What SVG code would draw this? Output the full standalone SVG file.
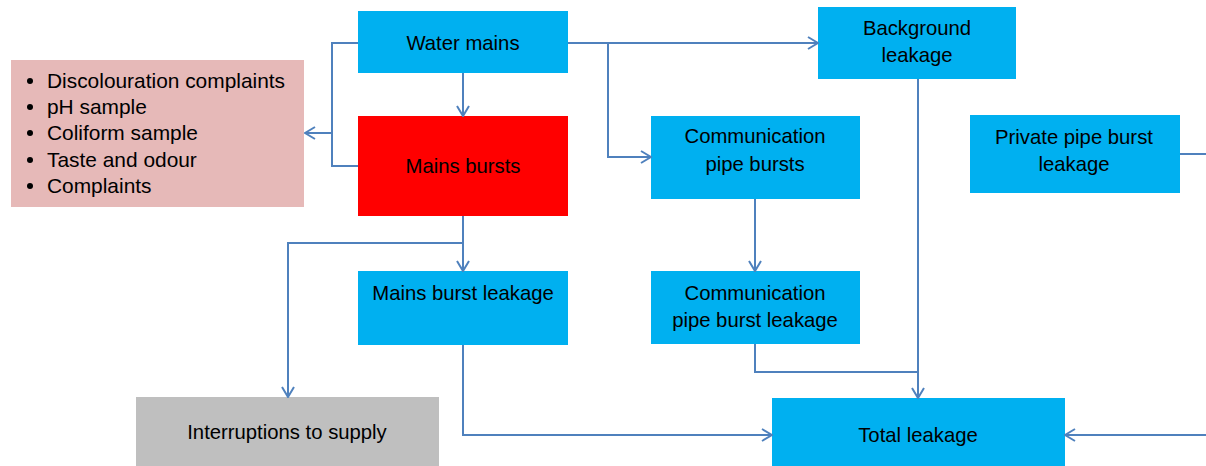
<svg xmlns="http://www.w3.org/2000/svg" width="1206" height="466" viewBox="0 0 1206 466">
<style>
.box{stroke:none}
.blue{fill:#00B0F0}
.red{fill:#FF0000}
.pink{fill:#E6B9B8}
.grey{fill:#BFBFBF}
text{font-family:"Liberation Sans",Arial,sans-serif;font-size:20.3px;fill:#000}
.c{text-anchor:middle}
.l{font-size:20.9px}
.conn path{fill:none;stroke:#4F81BD;stroke-width:2}
</style>
<defs>
<marker id="arr" viewBox="0 0 12 14" refX="11" refY="7" markerWidth="12" markerHeight="14" markerUnits="userSpaceOnUse" orient="auto">
<path d="M1,1 L11,7 L1,13" fill="none" stroke="#4F81BD" stroke-width="2"/>
</marker>
</defs>
<rect width="1206" height="466" fill="#fff"/>
<g id="water-mains"><rect class="box blue" x="358" y="11" width="210" height="62"/><text class="c" x="463" y="50">Water mains</text></g>
<g id="mains-bursts"><rect class="box red" x="358" y="116" width="210" height="100"/><text class="c" x="463" y="173">Mains bursts</text></g>
<g id="quality"><rect class="box pink" x="11" y="60" width="293" height="147"/>
<circle cx="30" cy="81" r="3"/><text class="l" x="47" y="88">Discolouration complaints</text>
<circle cx="30" cy="107" r="3"/><text class="l" x="47" y="114">pH sample</text>
<circle cx="30" cy="133" r="3"/><text class="l" x="47" y="140">Coliform sample</text>
<circle cx="30" cy="160" r="3"/><text class="l" x="47" y="167">Taste and odour</text>
<circle cx="30" cy="186" r="3"/><text class="l" x="47" y="193">Complaints</text>
</g>
<g id="background-leakage"><rect class="box blue" x="818" y="7" width="198" height="72"/><text class="c" x="917" y="35">Background</text><text class="c" x="917" y="62">leakage</text></g>
<g id="comm-pipe-bursts"><rect class="box blue" x="651" y="116" width="209" height="83"/><text class="c" x="755" y="143">Communication</text><text class="c" x="755" y="171">pipe bursts</text></g>
<g id="private-pipe"><rect class="box blue" x="970" y="115" width="210" height="78"/><text class="c" x="1074" y="144">Private pipe burst</text><text class="c" x="1074" y="171">leakage</text></g>
<g id="mains-burst-leakage"><rect class="box blue" x="358" y="271" width="210" height="74"/><text class="c" x="463" y="300">Mains burst leakage</text></g>
<g id="comm-pipe-leakage"><rect class="box blue" x="651" y="271" width="209" height="73"/><text class="c" x="755" y="300">Communication</text><text class="c" x="755" y="327">pipe burst leakage</text></g>
<g id="interruptions"><rect class="box grey" x="136" y="397" width="303" height="69"/><text class="c" x="287" y="439">Interruptions to supply</text></g>
<g id="total-leakage"><rect class="box blue" x="772" y="398" width="293" height="68"/><text class="c" x="918" y="442">Total leakage</text></g>
<g class="conn" id="connectors">
<path d="M463,73 V116" marker-end="url(#arr)"/>
<path d="M358,43 H332 V166 H358"/>
<path d="M332,133 H305" marker-end="url(#arr)"/>
<path d="M568,43 H818" marker-end="url(#arr)"/>
<path d="M608,43 V157 H651" marker-end="url(#arr)"/>
<path d="M463,216 V271" marker-end="url(#arr)"/>
<path d="M463,243 H288 V397" marker-end="url(#arr)"/>
<path d="M463,345 V435 H772" marker-end="url(#arr)"/>
<path d="M755,199 V271" marker-end="url(#arr)"/>
<path d="M755,344 V372 H918"/>
<path d="M918,79 V398" marker-end="url(#arr)"/>
<path d="M1206,435 H1065" marker-end="url(#arr)"/>
<path d="M1180,154 H1206"/>
</g>
</svg>
